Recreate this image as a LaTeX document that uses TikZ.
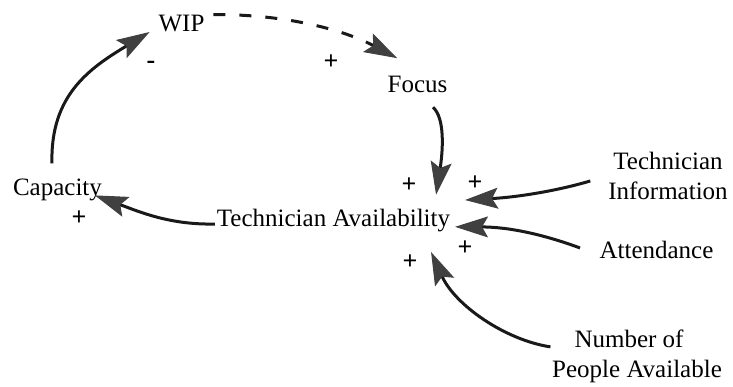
\documentclass[tikz,border=0pt]{standalone}
\usepackage{fontspec}
\setmainfont{Liberation Serif}
\usetikzlibrary{arrows.meta}
\begin{document}
\begin{tikzpicture}[x=1pt,y=-1pt,
  lbl/.style={inner sep=0pt,outer sep=0pt,font=\fontsize{25}{30}\selectfont,align=center,anchor=base},
  sgn/.style={inner sep=0pt,outer sep=0pt,font=\fontsize{26}{30}\selectfont\bfseries},
  link/.style={line width=3pt,draw=black!90,
    -{Stealth[length=33pt,width=21pt,inset=6pt,color=black!75,fill=black!75,line width=1pt]}},
  dashlink/.style={link,dash pattern=on 12pt off 14pt},
]
\fill[white] (0,0) rectangle (733,386);
\useasboundingbox (0,0) rectangle (733,386);

% nodes
\node[lbl] (wip) at (181.5,31) {WIP};
\node[lbl] (fo)  at (417.5,92) {Focus};
\node[lbl] (cap) at (57.5,195) {Capacity};
\node[lbl] (ta)  at (333.5,226) {Technician Availability};
\node[lbl] (ti)  at (668,199) {Technician\\Information};
\node[lbl] (at)  at (656.5,258) {Attendance};
\node[lbl] (nu)  at (637,377) {Number of\hspace*{16pt}\\People Available};

% polarity signs
\node[sgn,anchor=base] (s1) at (151,68) {-};
\node[sgn] (s2) at (331,62) {+};
\node[sgn] (s3) at (409,185) {+};
\node[sgn] (s4) at (475,183) {+};
\node[sgn] (s5) at (79,218) {+};
\node[sgn] (s6) at (465,248) {+};
\node[sgn] (s7) at (410,262) {+};

% connectors
\draw[link] ([shift={(-5.5,-15)}]cap.north) .. controls (50,95) and (90,68) .. ([shift={(-9,1)}]wip.base west);
\draw[dashlink] ([shift={(9,0)}]wip.north east) .. controls (280,14) and (340,28) .. ([shift={(9.5,-17.5)}]fo.north west);
\draw[link] ([shift={(15.5,15)}]fo.south) .. controls (445,118) and (443,150) .. ([shift={(-14,-14)}]ta.north east);
\draw[link] ([shift={(-2,-2)}]ta.base west) .. controls (170,225) and (140,212) .. ([shift={(-7,-5)}]cap.south east);
\draw[link] ([shift={(-18,5.5)}]ti.west) .. controls (560,190) and (520,197) .. ([shift={(15,-20)}]ta.east);
\draw[link] ([shift={(-19.6,-1.5)}]at.west) .. controls (545,235) and (510,227) .. ([shift={(5,6.8)}]ta.east);
\draw[link] ([shift={(-1.75,-9)}]nu.west) .. controls (505,340) and (455,305) .. ([shift={(-19,20.6)}]ta.south east);
\end{tikzpicture}
\end{document}
